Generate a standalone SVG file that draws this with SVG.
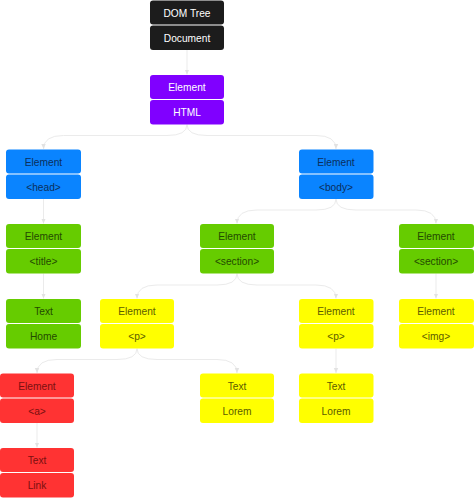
<svg xmlns="http://www.w3.org/2000/svg" width="474" height="498" viewBox="0 0 474 498">
<defs>
<style>
text{font-family:"Liberation Sans",Arial,sans-serif;font-size:10.2px;text-anchor:middle;dominant-baseline:central}
.c rect{rx:3px;ry:3px}
.k rect{fill:#1c1c1c}.k text{fill:#ffffff}
.v rect{fill:#8000ff}.v text{fill:#ffffff}
.b rect{fill:#0a84ff}.b text{fill:#0b2f5c}
.g rect{fill:#66cc00}.g text{fill:#234a00}
.y rect{fill:#ffff00}.y text{fill:#5c5c00}
.r rect{fill:#ff3333}.r text{fill:#7a1010}
.e path{fill:none;stroke:#ebebeb;stroke-width:1}
</style>
<marker id="ah" markerWidth="6" markerHeight="6" refX="5" refY="3" orient="auto" markerUnits="userSpaceOnUse">
<path d="M0,0.8 L5,3 L0,5.2 z" fill="#e2e2e2"/>
</marker>
</defs>
<g id="edges" class="e">
<path d="M187,50 L187,74.5" marker-end="url(#ah)"/>
<path d="M187,124.5 Q187,135.5 167,135.5 L63.5,135.5 Q43.5,135.5 43.5,149" marker-end="url(#ah)"/>
<path d="M187,124.5 Q187,135.5 207,135.5 L316,135.5 Q336,135.5 336,149" marker-end="url(#ah)"/>
<path d="M43.5,199 L43.5,223.5" marker-end="url(#ah)"/>
<path d="M336,199 Q336,210 316,210 L257,210 Q237,210 237,223.5" marker-end="url(#ah)"/>
<path d="M336,199 Q336,210 356,210 L416,210 Q436,210 436,223.5" marker-end="url(#ah)"/>
<path d="M43.5,273.5 L43.5,298.5" marker-end="url(#ah)"/>
<path d="M237,273.5 Q237,285 217,285 L157,285 Q137,285 137,298.5" marker-end="url(#ah)"/>
<path d="M237,273.5 Q237,285 257,285 L316,285 Q336,285 336,298.5" marker-end="url(#ah)"/>
<path d="M436,273.5 L436,298.5" marker-end="url(#ah)"/>
<path d="M137,348.5 Q137,359.5 117,359.5 L57,359.5 Q37,359.5 37,373" marker-end="url(#ah)"/>
<path d="M137,348.5 Q137,359.5 157,359.5 L217,359.5 Q237,359.5 237,373" marker-end="url(#ah)"/>
<path d="M336,348.5 L336,373" marker-end="url(#ah)"/>
<path d="M37,423 L37,447.5" marker-end="url(#ah)"/>
</g>
<g id="dom" class="c k"><rect x="150" y="0.5" width="74" height="24"/><rect x="150" y="25.5" width="74" height="24.5"/><text x="187" y="13">DOM Tree</text><text x="187" y="38">Document</text></g>
<g id="html" class="c v"><rect x="150" y="75" width="74" height="24"/><rect x="150" y="100" width="74" height="24.5"/><text x="187" y="87.5">Element</text><text x="187" y="112.5">HTML</text></g>
<g id="head" class="c b"><rect x="6" y="149.5" width="75" height="24"/><rect x="6" y="174.5" width="75" height="24.5"/><text x="43.5" y="162">Element</text><text x="43.5" y="187">&lt;head&gt;</text></g>
<g id="body" class="c b"><rect x="299" y="149.5" width="74.5" height="24"/><rect x="299" y="174.5" width="74.5" height="24.5"/><text x="336" y="162">Element</text><text x="336" y="187">&lt;body&gt;</text></g>
<g id="title" class="c g"><rect x="6" y="224" width="75" height="24"/><rect x="6" y="249" width="75" height="24.5"/><text x="43.5" y="236.5">Element</text><text x="43.5" y="261.5">&lt;title&gt;</text></g>
<g id="section1" class="c g"><rect x="200" y="224" width="74" height="24"/><rect x="200" y="249" width="74" height="24.5"/><text x="237" y="236.5">Element</text><text x="237" y="261.5">&lt;section&gt;</text></g>
<g id="section2" class="c g"><rect x="399" y="224" width="75" height="24"/><rect x="399" y="249" width="75" height="24.5"/><text x="436" y="236.5">Element</text><text x="436" y="261.5">&lt;section&gt;</text></g>
<g id="home" class="c g"><rect x="6" y="299" width="75" height="24"/><rect x="6" y="324" width="75" height="24.5"/><text x="43.5" y="311.5">Text</text><text x="43.5" y="336.5">Home</text></g>
<g id="p1" class="c y"><rect x="100" y="299" width="74" height="24"/><rect x="100" y="324" width="74" height="24.5"/><text x="137" y="311.5">Element</text><text x="137" y="336.5">&lt;p&gt;</text></g>
<g id="p2" class="c y"><rect x="299" y="299" width="74.5" height="24"/><rect x="299" y="324" width="74.5" height="24.5"/><text x="336" y="311.5">Element</text><text x="336" y="336.5">&lt;p&gt;</text></g>
<g id="img" class="c y"><rect x="399" y="299" width="75" height="24"/><rect x="399" y="324" width="75" height="24.5"/><text x="436" y="311.5">Element</text><text x="436" y="336.5">&lt;img&gt;</text></g>
<g id="a" class="c r"><rect x="0" y="373.5" width="74" height="24"/><rect x="0" y="398.5" width="74" height="24.5"/><text x="37" y="386">Element</text><text x="37" y="411">&lt;a&gt;</text></g>
<g id="lorem1" class="c y"><rect x="200" y="373.5" width="74" height="24"/><rect x="200" y="398.5" width="74" height="24.5"/><text x="237" y="386">Text</text><text x="237" y="411">Lorem</text></g>
<g id="lorem2" class="c y"><rect x="299" y="373.5" width="74.5" height="24"/><rect x="299" y="398.5" width="74.5" height="24.5"/><text x="336" y="386">Text</text><text x="336" y="411">Lorem</text></g>
<g id="link" class="c r"><rect x="0" y="448" width="74" height="24"/><rect x="0" y="473" width="74" height="24.5"/><text x="37" y="460.5">Text</text><text x="37" y="485.5">Link</text></g>
</svg>
